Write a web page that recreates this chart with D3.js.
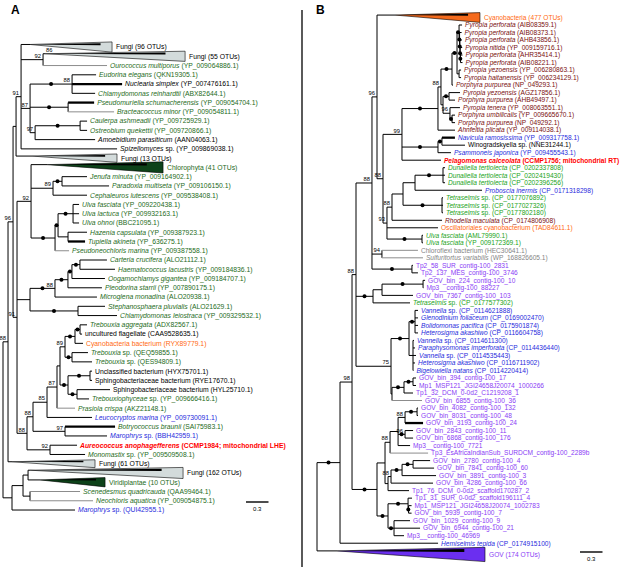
<!DOCTYPE html>
<html><head><meta charset="utf-8">
<script src="https://cdn.jsdelivr.net/npm/d3@7"></script>
<style>
body{margin:0;background:#fff}
svg{display:block}
text{font-family:"Liberation Sans",Arial,sans-serif;white-space:pre}
</style>
</head><body>
<svg id="c" width="637" height="567"></svg>
<script>
// ---------------- DATA ----------------
// Panel A topology (leaf names are indices into leafNamesA), branch lengths in substitutions/site
const treeA = `
(
 (
  (
   (
    (0:0.12,
     (1:0.027,2:0.853)92:0.293,
     (
      (3:0.32,4:0.667,5:0.307)88*:0.56,
      (6:0.347,7:0.613)*:0.507,
      ((8:0.093,9:0.093)*:0.6,10:0.8)97:0.067
     )87:0.12,
     11:1.28
    )91:0.067,
    12:0.213
   ):0.04,
   (
    (13:0.213,
     ((14:0.333,15:0.627)*:0.12,16:0.453)89:0.293,
     (
      (
       (17:0.08,18:0.08,19:0.08)*:0.2,
       (20:0.253,21:0.227):0.133
      )*:0.04,
      22:0.187
     )*:0.32
    )92:0.187,
    (
     (
      (
       (
        (23:0.36,24:0.467)*:0.107,
        25:0.44
       )*:0.053,
       26:0.453
      )*:0.173,
      27:0.56
     )88*:0.333,
     (28:0.36,29:0.52)*:0.64
    ):0.173,
    (
     (
      (
       (
        (
         (
          ((30:0.093,31:0.027)*:0.067,32:0.107)*:0.133,
          (33:0.213,34:0.267)*:0.093
         )89:0.067,
         (
          (35:0.027,36:0.027)*:0.293,
          (37:0.44,38:0.16)*:0.12
         )*:0.107
        ):0.04,
        39:0.24
       )87:0.133,
       40:0.6
      )85:0.187,
      (41:0.667,42:0.56)97:0.427
     )88:0.08,
     (43:0.36,44:0.467)92:0.307
    )88:0.133
   )91:0.053
  )96:0.067,
  45:0.053
 )88:0.067,
 (
  (
   (46:0.027,47:0.16):0.067,
   (48:0.667,49:0.84):0.093
  ):0.147,
  50:0.84
 ):0.12
);`;

const leafNamesA = [
"Fungi (96 OTUs)","Fungi (55 OTUs)","Ourococcus multiporus (YP_009064886.1)","Eudorina elegans (QKN19305.1)",
"Nuclearia simplex (YP_007476161.1)","Chlamydomonas reinhardtii (ABX82644.1)","Pseudomuriella schumacherensis (YP_009054704.1)",
"Bracteacoccus minor (YP_009054811.1)","Caulerpa ashmeadii (YP_009725929.1)","Ostreobium quekettii (YP_009720866.1)",
"Amoebidium parasiticum (AAN04063.1)","Spizellomyces sp. (YP_009869038.1)","Fungi (13 OTUs)","Chlorophyta (41 OTUs)",
"Jenufa minuta (YP_009164902.1)","Paradoxia multiseta (YP_009106150.1)","Cephaleuros lutescens (YP_009538408.1)",
"Ulva fasciata (YP_009220438.1)","Ulva lactuca (YP_009932163.1)","Ulva ohnoi (BBC21095.1)","Hazenia capsulata (YP_009387923.1)",
"Tupiella akineta (YP_636275.1)","Pseudoneochloris marina (YP_009387558.1)","Carteria crucifera (ALO21112.1)",
"Haematococcus lacustris (YP_009184836.1)","Oogamochlamys gigantea (YP_009184707.1)","Pleodorina starrii (YP_007890175.1)",
"Microglena monadina (ALO20938.1)","Stephanosphaera pluvialis (ALO21629.1)","Chlamydomonas leiostraca (YP_009329532.1)",
"Trebouxia aggregata (ADX82567.1)","uncultured flagellate (CAA9528635.1)","Cyanobacteria bacterium (RYX89779.1)",
"Trebouxia sp. (QEQ59855.1)","Trebouxia sp. (QES94809.1)","Unclassified bacterium (HYX75701.1)",
"Sphingobacteriaceae bacterium (RYE17670.1)","Sphingobacteriaceae bacterium (HYL25710.1)","Trebouxiophyceae sp. (YP_009666416.1)",
"Prasiola crispa (AKZ21148.1)","Leucocryptos marina (YP_009730091.1)","Botryococcus braunii (SAI75983.1)",
"Marophrys sp. (BBH42959.1)","Aureococcus anophagefferens (CCMP1984; mitochondrial LHE)","Monomastix sp. (YP_009509508.1)",
"Fungi (61 OTUs)","Fungi (162 OTUs)","Viridiplantae (10 OTUs)","Scenedesmus quadricauda (QAA99464.1)",
"Neochloris aquatica (YP_009054875.1)","Marophrys sp. (QUI42955.1)"
];
// colour code + "i" for italic species name
const leafStyleA = ["k","k","gi","gi","ki","gi","gi","gi","gi","gi","ki","ki","k","g","gi","gi","gi","gi","gi","gi","gi","gi","gi",
"gi","gi","gi","gi","gi","gi","gi","gi","k","o","gi","gi","k","k","k","gi","gi","bi","gi","bi","ri","gi","k","k","g","gi","gi","bi"];
// collapsed clades: [leaf index, depth of clade, height in leaf rows, fill]
const cladesA = [[0,1.093,1.1,"fungi"],[1,1.867,1.1,"fungi"],[12,1.133,0.9,"fungi"],[13,1.547,1.2,"chloro"],
[45,1.107,0.85,"fungi"],[46,2.04,1.2,"fungi"],[47,0.867,1.0,"chloro"]];
const leafSupportA = [[1,"86"]];
const grayA = [2,7,22,39,48,49];
const thickA = [4,6,21,41];

const treeB = `
(
 (
  (
   (
    (
     (
      0:0.24,
      (
       (
        (
         (
          (
           (
            (1:0.04,(2:0.027,(3:0.027,(4:0.027,(5:0.027,6:0.027)*:0.004)*:0.004)*:0.004)*:0.007)*:0.027,
            (7:0.027,8:0.027):0.027
           )*:0.067,
           9:0.013
          )*:0.147,
          (
           (10:0.147,11:0.08)*:0.08,
           (12:0.133,(13:0.04,14:0.04)*:0.027)96:0.093
          ):0.027
         )88:0.04,
         15:0.227
        )*:0.48,
        ((16:0.173,17:0.307)*:0.053,18:0.173)*:0.48,
        19:0.52
       )99:0.253,
       (
        (
         (
          ((20:0.027,21:0.027,22:0.027)*:0.373,23:0.893):0.16,
          (24:0.013,25:0.013,26:0.013)*:0.52
         ):0.147,
         27:0.667
        )88:0.067,
        28:0.68,
        (29:0.013,30:0.013)*:0.467
       )93:0.053
      )88:0.08
     )96:0.067,
     (31:0.48,32:0.547)94:0.133,
     (33:0.013,34:0.08)*:0.533
    )88:0.213,
    (
     ((35:0.027,36:0.005)*:0.547,37:0.413):0.12,
     38:0.493
    )*:0.227,
    (
     (
      (39:0.04,40:0.04,41:0.04,42:0.04)*:0.08,
      (43:0.013,44:0.027,45:0.04,46:0.027,47:0.005):0.053
     )*:0.24,
     (
      ((48:0.04,49:0.04)*:0.12,50:0.12)*:0.16,
      51:0.4
     ):0.013
    )75:0.467
   )88:0.053,
   (
    (
     (
      (
       ((52:0.013,53:0.013)*:0.16,54:0.24)88:0.093,
       (55:0.107,56:0.107)96*:0.093,
       57:0.16
      ):0.107,
      58:0.507
     )88:0.067,
     (
      (
       ((59:0.227,60:0.28)*:0.147,61:0.453)*:0.147,
       62:0.56
      )88:0.04,
      63:0.28
     ):0.04
    ):0.107,
    (
     (64:0.053,(65:0.04,66:0.04)*:0.007)*:0.267,
     (67:0.213,68:0.347,69:0.133)*:0.08
    )*:0.147
   )*:0.333
  )98:0.16,
  70:1.307
 )*:0.307,
 71:0.267
);`;

const leafNamesB = [
"Cyanobacteria (477 OTUs)","Pyropia perforata (AIB08359.1)","Pyropia perforata (AIB08373.1)","Pyropia perforata (AHB43856.1)",
"Pyropia nitida (YP_009159716.1)","Pyropia perforata (AHR35414.1)","Pyropia perforata (AIB08221.1)",
"Pyropia yezoensis (YP_006280863.1)","Pyropia haitanensis (YP_006234129.1)","Porphyra purpurea (NP_049293.1)",
"Pyropia yezoensis (AGZ17856.1)","Porphyra purpurea (AHB49497.1)","Pyropia tenera (YP_008063551.1)",
"Porphyra umbilicalis (YP_009665670.1)","Porphyra purpurea (NP_049292.1)","Ahnfeltia plicata (YP_009114038.1)",
"Navicula ramosissima (YP_009317758.1)","Winogradskyella sp. (NNE31244.1)","Psammoneis japonica (YP_009455543.1)",
"Pelagomonas calceolata (CCMP1756; mitochondrial RT)","Dunaliella tertiolecta (CP_0202337808)",
"Dunaliella tertiolecta (CP_0202419430)","Dunaliella tertiolecta (CP_0202396256)","Proboscia inermis (CP_0171318298)",
"Tetraselmis sp. (CP_0177076892)","Tetraselmis sp. (CP_0177027326)","Tetraselmis sp. (CP_0177802180)",
"Rhodella maculata (CP_0174806908)","Oscillatoriales cyanobacterium (TAD84611.1)","Ulva fasciata (AML79990.1)",
"Ulva fasciata (YP_009172369.1)","Chloroflexi bacterium (HEC30641.1)","Sulfuritortus variabilis (WP_168826605.1)",
"Tp2_58_SUR_contig-100_2831","Tp2_137_MES_contig-100_3746","GOV_bin_224_contig-100_10","Mp3__contig-100_88227",
"GOV_bin_7367_contig-100_103","Tetraselmis sp. (CP_0177577302)","Vannella sp. (CP_0114621888)",
"Glenodinium foliaceum (CP_0169002470)","Bolidomonas pacifica (CP_0175901874)","Heterosigma akashiwo (CP_0116604758)",
"Vannella sp. (CP_0114611300)","Paraphysomonas imperforata (CP_0114436440)","Vannella sp. (CP_0114535443)",
"Heterosigma akashiwo (CP_0116711902)","Bigelowiella natans (CP_0114220414)","GOV_bin_394_contig-100_17",
"Mp1_MSP121_JGI24658J20074_1000266","Tp1_32_DCM_0-0d2_C1219208_1","GOV_bin_6855_contig-100_36",
"GOV_bin_4082_contig-100_132","GOV_bin_8031_contig-100_48","GOV_bin_3193_contig-100_24","GOV_bin_2843_contig-100_11",
"GOV_bin_6868_contig-100_176","Mp3__contig-100_7721","Tp3_EsAfricaIndianSub_SURDCM_contig-100_2289b",
"GOV_bin_2780_contig-100_4","GOV_bin_7841_contig-100_60","GOV_bin_3891_contig-100_3","GOV_bin_4286_contig-100_66",
"Tp1_76_DCM_0-0d2_scaffold170287_2","Tp1_31_SUR_0-0d2_scaffold196111_4","Mp1_MSP121_JGI24658J20074_1002783",
"GOV_bin_5939_contig-100_7","GOV_bin_1029_contig-100_9","GOV_bin_6944_contig-100_21","Mp3__contig-100_46969",
"Hemiselmis tepida (CP_0174915100)","GOV (174 OTUs)"
];
const leafStyleB = ["o","di","di","di","di","di","di","di","di","di","di","di","di","di","di","di","bi","k","bi","ri",
"li","li","li","bi","li","li","li","di","o","li","li","G","Gi","p","p","p","p","p","li","bi","bi","bi","bi","bi","bi","bi",
"bi","bi","p","p","p","p","p","p","p","p","p","p","p","p","p","p","p","p","p","p","p","p","p","p","bi","p"];
const cladesB = [[0,1.133,1.3,"cyano"],[71,1.973,1.9,"gov"]];
const slotsB = [[71,2]];
const grayB = [31,32,51,58];
const thickB = [16,54];

const scaleBarValue = 0.3;

// ---------------- STYLE ----------------
const colors = {k:"#000000",g:"#1e6b22",l:"#21a321",b:"#1f2bdc",r:"#ff0000",o:"#ff6a13",d:"#7a0f0f",G:"#858585",p:"#8a3cf5"};
const fills = {fungi:"#d3dbdb",chloro:"#0d4219",cyano:"#f56a1c",gov:"#6b2ff0"};

function parseNewick(s){
  s = s.replace(/\s+/g,"");
  let i = 0;
  function node(){
    const n = {};
    if (s[i] === "("){
      n.children = [];
      i++;
      n.children.push(node());
      while (s[i] === ","){ i++; n.children.push(node()); }
      i++;
    }
    let lab = "";
    while (i < s.length && !":,();".includes(s[i])) lab += s[i++];
    n.label = lab;
    n.len = 0;
    if (s[i] === ":"){
      i++;
      let num = "";
      while (i < s.length && !",();".includes(s[i])) num += s[i++];
      n.len = +num;
    }
    return n;
  }
  return node();
}

const svg = d3.select("#c");

function addLabel(g, text, code, x, y, size){
  const color = colors[code[0]];
  const italic = code.includes("i");
  const bold = code[0] === "r";
  const t = g.append("text").attr("x", x).attr("y", y).attr("dy", "0.35em")
    .attr("font-size", size).attr("fill", color).attr("font-weight", bold ? "bold" : null);
  if (!italic){ t.text(text); return; }
  const k = text.indexOf(" (");
  const name = k < 0 ? text : text.slice(0, k);
  const rest = k < 0 ? "" : text.slice(k);
  name.split(" ").forEach((w, j) => {
    t.append("tspan").attr("font-style", (w === "sp." || w === "bacterium") ? "normal" : "italic").text((j ? " " : "") + w);
  });
  if (rest) t.append("tspan").text(rest);
}

function drawPanel(cfg){
  const g = svg.append("g");
  const root = d3.hierarchy(parseNewick(cfg.tree));
  root.eachBefore(d => d.dist = d.parent ? d.parent.dist + d.data.len : 0);
  const leaves = root.leaves();
  const slotOf = new Map(cfg.slots || []);
  let cum = 0;
  leaves.forEach(d => {
    d.idx = +d.data.label;
    d.s = slotOf.get(d.idx) || 1;
    d.s0 = cum; cum += d.s;
  });
  const y = d3.scaleLinear().domain([0, cum]).range([cfg.top, cfg.top + cum * cfg.step]);
  const x = d3.scaleLinear().domain([0, scaleBarValue]).range([cfg.x0, cfg.x0 + cfg.barPx]);
  const cladeOf = new Map(cfg.clades.map(c => [c[0], c]));
  leaves.forEach(d => {
    d.cy = y(d.s0 + d.s / 2);
    const c = cladeOf.get(d.idx);
    if (c){ d.clade = c; d.hpx = y(c[2]) - y(0); d.by = d.cy - 0.25 * d.hpx; }
    else d.by = d.cy;
  });
  root.eachAfter(d => {
    if (d.children) d.by = (d.children[0].by + d.children[d.children.length - 1].by) / 2;
  });
  const gray = new Set(cfg.gray), thick = new Set(cfg.thick);

  // branches
  const br = g.append("g").attr("fill", "none");
  root.descendants().forEach(d => {
    if (d.parent){
      const isLeaf = !d.children;
      br.append("line").attr("x1", x(d.parent.dist)).attr("x2", x(d.dist)).attr("y1", d.by).attr("y2", d.by)
        .attr("stroke", isLeaf && gray.has(d.idx) ? "#8c8c8c" : "#000")
        .attr("stroke-width", isLeaf && thick.has(d.idx) ? 2.3 : 1);
    }
    if (d.children){
      br.append("line").attr("x1", x(d.dist)).attr("x2", x(d.dist))
        .attr("y1", d.children[0].by).attr("y2", d.children[d.children.length - 1].by)
        .attr("stroke", "#000").attr("stroke-width", 1);
    }
  });

  // collapsed clades
  leaves.filter(d => d.clade).forEach(d => {
    const c = d.clade;
    const ax = x(d.dist), rx = x(d.dist + c[1]);
    const top = d.cy - d.hpx / 2, bot = d.cy + d.hpx / 2;
    g.append("polygon").attr("points", [[ax, d.by], [rx, top], [rx, bot]].map(p => p.join(",")).join(" "))
      .attr("fill", fills[c[3]]).attr("stroke", "#000").attr("stroke-width", 0.6);
    const w = rx - ax;
    g.append("polygon").attr("points", [[ax, d.by], [ax + 0.86 * w, top + 0.12 * d.hpx], [ax + 0.86 * w, top + 0.32 * d.hpx]].map(p => p.join(",")).join(" "))
      .attr("fill", "#000");
  });

  // node dots and support values
  root.descendants().forEach(d => {
    if (!d.children || !d.parent) return;
    const lab = d.data.label || "";
    if (lab.includes("*")){
      g.append("circle").attr("cx", x((d.parent.dist + d.dist) / 2)).attr("cy", d.by).attr("r", 2).attr("fill", "#000");
    }
    const sup = lab.replace("*", "");
    if (sup){
      g.append("text").attr("x", x(d.dist) - 2).attr("y", d.by - 1.8).attr("text-anchor", "end")
        .attr("font-size", 5.8).attr("fill", "#000").text(sup);
    }
  });
  (cfg.leafSupport || []).forEach(([i, s]) => {
    const d = leaves.find(l => l.idx === i);
    g.append("text").attr("x", x(d.dist) + 1).attr("y", d.by - 2).attr("font-size", 5.8).text(s);
  });

  // leaf labels
  leaves.forEach(d => {
    const lx = d.clade ? x(d.dist + d.clade[1]) + 4 : x(d.dist) + 3;
    addLabel(g, cfg.names[d.idx], cfg.styles[d.idx], lx, d.cy, cfg.font);
  });

  // scale bar
  const sb = cfg.bar;
  g.append("line").attr("x1", sb[0]).attr("x2", sb[0] + (x(scaleBarValue) - x(0))).attr("y1", sb[1]).attr("y2", sb[1])
    .attr("stroke", "#000").attr("stroke-width", 1.4);
  g.append("text").attr("x", sb[0] + (x(scaleBarValue) - x(0)) / 2).attr("y", sb[1] + 9).attr("text-anchor", "middle")
    .attr("font-size", 6).text(scaleBarValue);
}

drawPanel({tree: treeA, names: leafNamesA, styles: leafStyleA, clades: cladesA, leafSupport: leafSupportA,
  gray: grayA, thick: thickA, x0: 3, barPx: 22.5, top: 42.4, step: 9.26, font: 6.8, bar: [246, 502]});
drawPanel({tree: treeB, names: leafNamesB, styles: leafStyleB, clades: cladesB, slots: slotsB,
  gray: grayB, thick: thickB, x0: 317, barPx: 22.5, top: 13.75, step: 7.51, font: 6.6, bar: [580, 552]});

// panel letters and separator
svg.append("text").attr("x", 11).attr("y", 14).attr("font-size", 12).attr("font-weight", "bold").text("A");
svg.append("text").attr("x", 316).attr("y", 14).attr("font-size", 12).attr("font-weight", "bold").text("B");
svg.append("line").attr("x1", 302).attr("x2", 302).attr("y1", 10).attr("y2", 567).attr("stroke", "#000").attr("stroke-width", 1.3);
</script>
</body></html>
